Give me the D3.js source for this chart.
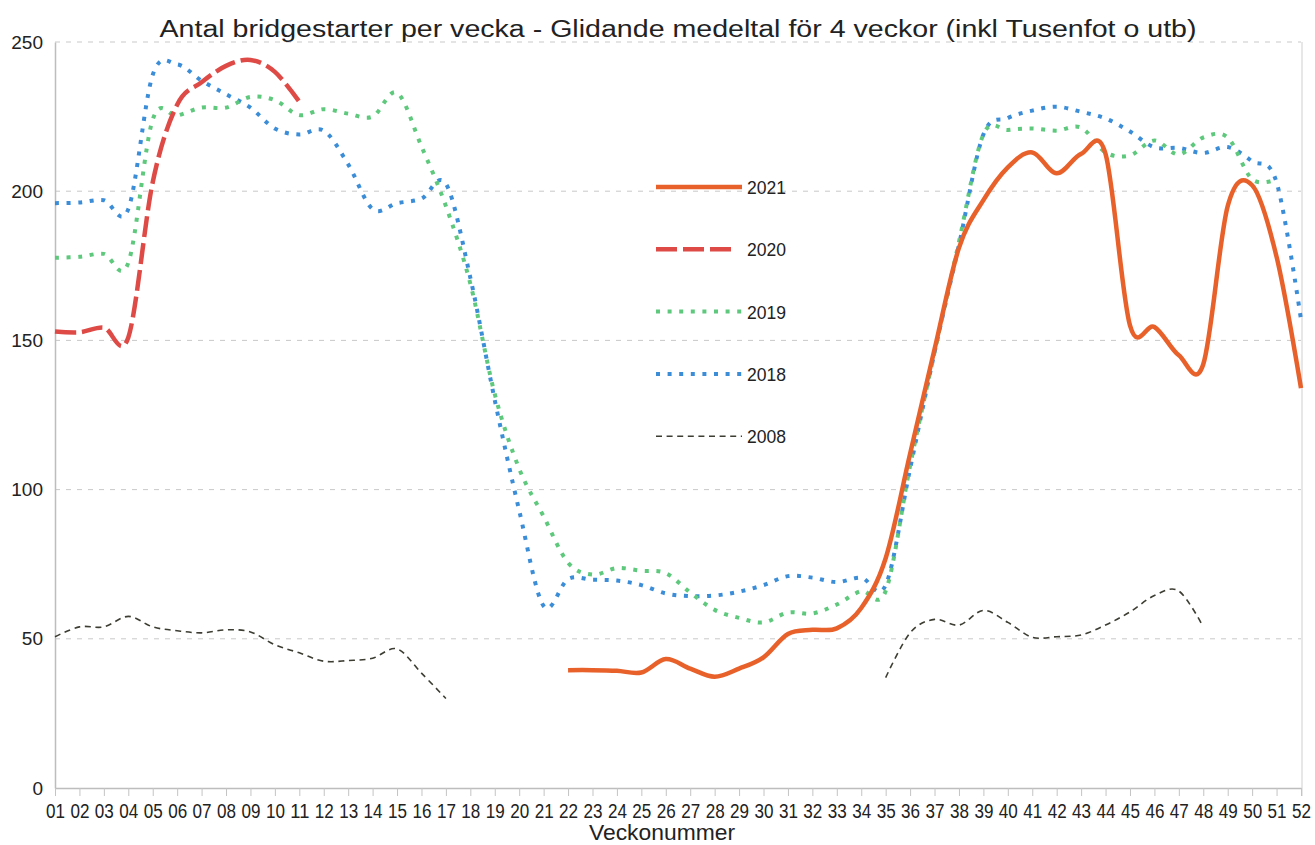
<!DOCTYPE html>
<html>
<head>
<meta charset="utf-8">
<script src="https://cdn.jsdelivr.net/npm/d3@7"></script>
<style>
  body { margin: 0; background: #fff; }
  text { font-family: "Liberation Sans", Arial, sans-serif; fill: #222; }
</style>
</head>
<body>
<div id="chart"></div>
<script>

// Data
var weeks = ["01","02","03","04","05","06","07","08","09","10","11","12","13",
             "14","15","16","17","18","19","20","21","22","23","24","25","26",
             "27","28","29","30","31","32","33","34","35","36","37","38","39",
             "40","41","42","43","44","45","46","47","48","49","50","51","52"];
var yTicks = [0, 50, 100, 150, 200, 250];
var years = ["2021", "2020", "2019", "2018", "2008"];

var v2021 = [null,null,null,null,null,null,null,null,null,null,null,null,null,
             null,null,null,null,null,null,null,null,39.5,39.5,39.3,38.7,43.2,
             40,37.3,40,43.8,51.6,53,53.5,60.3,77,112,147,181,197,
             208,213,206,212.5,212.5,155,154.5,145,142,195,202,178,134];
var v2020 = [153,152.7,154.3,151,203,229,236.5,242,244,240,230];
var v2019 = [177.7,178,179,176,224,225.3,228,228,231.6,230.5,225.5,227.5,226,
             225,233,215,195,169,132,107,91,75.5,71.5,73.7,72.8,72,
             65.5,59.7,57,55.5,58.8,58.5,61.5,66,66,108,146,183,219,
             220.5,221,220.3,221.3,213,212,217,212.3,218,218,204,204];
var v2018 = [196,196.2,197,194,239,242.5,237,232.5,228,221,219,220.3,209,
             194,196,197.5,202.5,171,130,93,61,70,69.8,69.5,68,65.2,
             64.3,64.5,65.8,68,71,70.5,69,70.5,68,107,146,182,219,
             224.5,227,228.3,226.6,224.4,220,214.7,214.5,212.8,214.8,210,203,157];
var v2008 = [50.7,54,54,57.5,54,52.7,52,53,52.3,48,45.3,42.5,42.7,
             43.5,46.6,38.5,30,null,null,null,null,null,null,null,null,null,
             null,null,null,null,null,null,null,null,37,52,56.5,54.6,59.5,
             55.5,50.5,50.7,51.3,54.6,59,64.5,66,54];

var seriesValues = { "2021": v2021, "2020": v2020, "2019": v2019, "2018": v2018, "2008": v2008 };

// line styles per year
var styles = {
  "2021": { color: "#e8612b", width: 4.5, dash: null, legendEnd: 742 },
  "2020": { color: "#de4b47", width: 4.5, dash: "21,6", legendEnd: 737 },
  "2019": { color: "#5ec97c", width: 4, dash: "4,7.6", legendEnd: 742 },
  "2018": { color: "#3b8dd8", width: 4, dash: "4,7.6", legendEnd: 742 },
  "2008": { color: "#3d3d33", width: 1.6, dash: "6,4.6", legendEnd: 742 }
};

var width = 1315;
var height = 845;
// plot area (window.top is reserved, so no "top" here)
var plotLeft = 55, plotRight = 1301, plotTop = 42, plotBottom = 788;

var svg = d3.select("#chart").append("svg")
  .attr("width", width)
  .attr("height", height)
  .style("background-color", "white");

// Scales
var x = d3.scalePoint().domain(weeks).range([plotLeft, plotRight]);
var y = d3.scaleLinear().domain([0, 250]).range([plotBottom, plotTop]);

// Gridlines
svg.append("g")
  .selectAll("line")
  .data(yTicks.filter(function(t) { return t > 0; }))
  .enter().append("line")
  .attr("x1", plotLeft).attr("x2", plotRight)
  .attr("y1", function(d) { return y(d); })
  .attr("y2", function(d) { return y(d); })
  .attr("stroke", "#c9c9c9")
  .attr("stroke-width", 1)
  .attr("stroke-dasharray", "5,6");

// right border of plot area
svg.append("line")
  .attr("x1", plotRight + 1).attr("x2", plotRight + 1)
  .attr("y1", plotTop).attr("y2", plotBottom + 8)
  .attr("stroke", "#cfcfcf");

// Y axis
var yAxis = svg.append("g")
  .attr("transform", "translate(" + plotLeft + ",0)")
  .call(d3.axisLeft(y).tickValues(yTicks).tickSize(0).tickPadding(12));
yAxis.select(".domain").attr("stroke", "#bdbdbd").attr("stroke-width", 1.5);
yAxis.selectAll("text")
  .style("font-size", "19px")
  .attr("fill", "#222");

// X axis
var xAxis = svg.append("g")
  .attr("transform", "translate(0," + plotBottom + ")")
  .call(d3.axisBottom(x).tickSize(8).tickPadding(8).tickSizeOuter(0));
xAxis.select(".domain").attr("stroke", "#bdbdbd").attr("stroke-width", 1.5);
xAxis.selectAll(".tick line").attr("stroke", "#c4c4c4");
xAxis.selectAll("text")
  .style("font-size", "20px")
  .attr("fill", "#222")
  .attr("textLength", 19)
  .attr("lengthAdjust", "spacingAndGlyphs");

// Title
svg.append("text")
  .attr("text-anchor", "middle")
  .attr("x", 678)
  .attr("y", 37)
  .style("font-size", "23px")
  .attr("textLength", 1037)
  .attr("lengthAdjust", "spacingAndGlyphs")
  .text("Antal bridgestarter per vecka - Glidande medeltal för 4 veckor (inkl Tusenfot o utb)");

// X axis text
svg.append("text")
  .attr("text-anchor", "middle")
  .attr("x", 662)
  .attr("y", 840)
  .style("font-size", "22px")
  .attr("textLength", 146)
  .attr("lengthAdjust", "spacingAndGlyphs")
  .text("Veckonummer");

// Lines
var line = d3.line()
  .defined(function(d) { return d.v != null; })
  .x(function(d) { return x(d.w); })
  .y(function(d) { return y(d.v); })
  .curve(d3.curveCardinal.tension(0));

// draw oldest first so 2021 ends up on top
years.slice().reverse().forEach(function(yr) {
  var pts = seriesValues[yr].map(function(v, i) { return { w: weeks[i], v: v }; });
  var st = styles[yr];
  svg.append("path")
    .datum(pts)
    .attr("class", "line y" + yr)
    .attr("d", line)
    .attr("fill", "none")
    .attr("stroke", st.color)
    .attr("stroke-width", st.width)
    .attr("stroke-dasharray", st.dash);
});

// Legend
var legend = svg.append("g").attr("class", "legend");
years.forEach(function(yr, i) {
  var st = styles[yr];
  var ly = 187 + i * 62.3;
  legend.append("line")
    .attr("x1", 656).attr("x2", st.legendEnd)
    .attr("y1", ly).attr("y2", ly)
    .attr("stroke", st.color)
    .attr("stroke-width", st.width)
    .attr("stroke-dasharray", st.dash);
  legend.append("text")
    .attr("x", 747)
    .attr("y", ly + 7)
    .style("font-size", "19px")
    .attr("textLength", 39)
    .attr("lengthAdjust", "spacingAndGlyphs")
    .text(yr);
});

</script>
</body>
</html>
